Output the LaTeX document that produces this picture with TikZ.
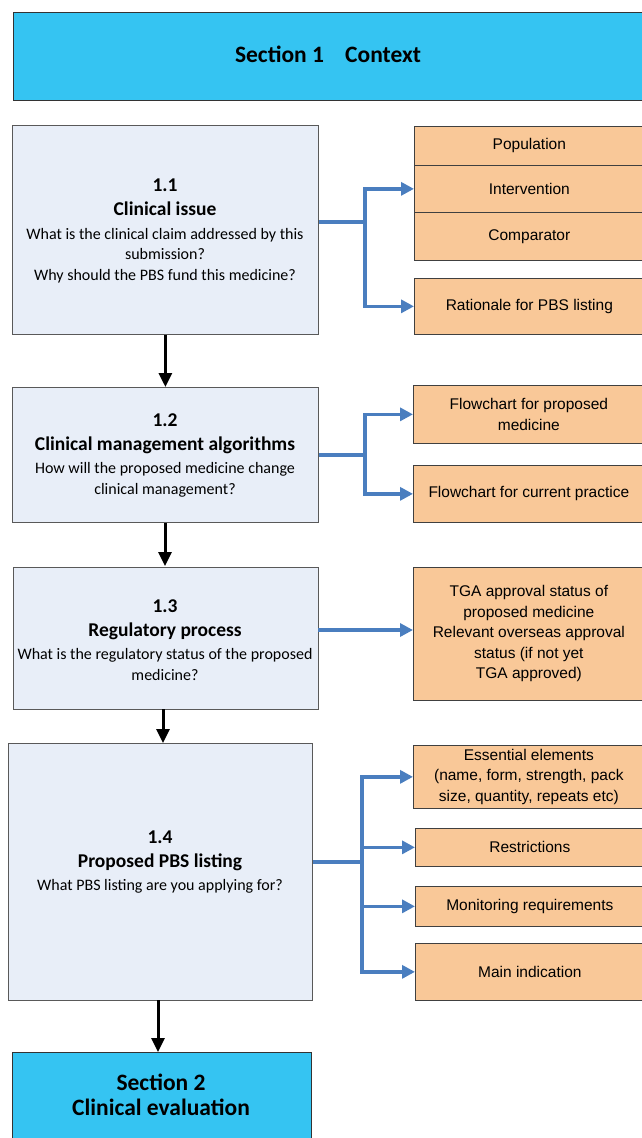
\documentclass[tikz,border=0pt]{standalone}
\usepackage{fontspec}
\setmainfont{Carlito}
\newfontfamily\arialf{Liberation Sans}
\usetikzlibrary{arrows.meta}
\definecolor{cyanbox}{HTML}{35C4F2}
\definecolor{lightbox}{HTML}{E8EEF8}
\definecolor{peach}{HTML}{F9C898}
\definecolor{arrowblue}{HTML}{4A7EBF}
\tikzset{
  sectbox/.style={draw=black!80, line width=0.8pt, fill=cyanbox, inner sep=0pt},
  leftbox/.style={draw=black!65, line width=0.8pt, fill=lightbox, inner sep=0pt},
  lefttext/.style={align=center, inner sep=0pt, font=\fontsize{16}{20.5}\selectfont},
  orangebox/.style={draw=black!75, line width=0.7pt, fill=peach, inner sep=0pt, align=center,
    font=\arialf\fontsize{15.5}{20.5}\selectfont},
  barrow/.style={draw=arrowblue, line width=3.5pt, -{Triangle[length=13pt,width=13pt]}},
  karrow/.style={draw=black, line width=3pt, -{Triangle[length=14pt,width=13pt]}},
  bline/.style={draw=arrowblue, line width=3.5pt},
}
\newcommand{\ttl}[1]{{\fontsize{19.5}{24}\selectfont\bfseries #1}}
\begin{document}
\begin{tikzpicture}[x=1pt,y=-1pt]
\useasboundingbox (0,0) rectangle (642,1138);
% Section 1
\node[sectbox, minimum width=633pt, minimum height=88pt, anchor=north west] (s1) at (13,12) {};
\node[font=\fontsize{23.5}{28}\selectfont\bfseries, inner sep=0pt] (s1t) at (328,54) {Section 1\hspace{0.9em}Context};
% 1.1
\node[leftbox, minimum width=306pt, minimum height=209pt, anchor=north west] (b11) at (12,125) {};
\node[lefttext] (t11) at (165,231) {\ttl{1.1}\\[3.5pt]\ttl{Clinical issue}\\[3pt]What is the clinical claim addressed by this\\submission?\\Why should the PBS fund this medicine?};
\node[orangebox, minimum width=230pt, minimum height=39pt, anchor=north west] (pop) at (414,126) {Population};
\node[orangebox, minimum width=230pt, minimum height=47pt, anchor=north west] (int) at (414,165) {Intervention};
\node[orangebox, minimum width=230pt, minimum height=48pt, anchor=north west] (com) at (414,212) {Comparator};
\node[orangebox, minimum width=230pt, minimum height=56pt, anchor=north west] (rat) at (414,278) {Rationale for PBS listing};
\coordinate (j1) at (365,222);
\draw[bline] (b11.east |- j1) -- (j1);
\draw[barrow] (j1) |- (int.west);
\draw[barrow] (j1) |- (rat.west);
% 1.2
\node[leftbox, minimum width=306pt, minimum height=135pt, anchor=north west] (b12) at (12,387) {};
\node[lefttext] (t12) at (165,455) {\ttl{1.2}\\[3.5pt]\ttl{Clinical management algorithms}\\[3pt]How will the proposed medicine change\\clinical management?};
\node[orangebox, minimum width=231pt, minimum height=58pt, anchor=north west] (fpm) at (413,385) {Flowchart for proposed\\medicine};
\node[orangebox, minimum width=231pt, minimum height=57pt, anchor=north west] (fcp) at (413,465) {Flowchart for current practice};
\coordinate (j2) at (365,455);
\draw[bline] (b12.east |- j2) -- (j2);
\draw[barrow] (j2) |- (fpm.west);
\draw[barrow] (j2) |- (fcp.west);
\draw[karrow] (b11.south) -- (b12.north);
% 1.3
\node[leftbox, minimum width=305pt, minimum height=142pt, anchor=north west] (b13) at (13,567) {};
\node[lefttext] (t13) at (165,640) {\ttl{1.3}\\[3.5pt]\ttl{Regulatory process}\\[3pt]What is the regulatory status of the proposed\\medicine?};
\node[orangebox, minimum width=231pt, minimum height=133pt, anchor=north west] (tga) at (413,567) {TGA approval status of\\proposed medicine\\Relevant overseas approval\\status (if not yet\\TGA approved)};
\coordinate (j3) at (318,630);
\draw[barrow] (j3) -- (tga.west |- j3);
\draw[karrow] (b12.south -| 165,0) -- (165,566);
% 1.4
\node[leftbox, minimum width=304pt, minimum height=257pt, anchor=north west] (b14) at (8,743) {};
\node[lefttext] (t14) at (160,862) {\ttl{1.4}\\[3.5pt]\ttl{Proposed PBS listing}\\[3pt]What PBS listing are you applying for?};
\node[orangebox, minimum width=231pt, minimum height=63pt, anchor=north west] (ess) at (413,745) {Essential elements\\(name, form, strength, pack\\size, quantity, repeats etc)};
\node[orangebox, minimum width=229pt, minimum height=38pt, anchor=north west] (res) at (415,828) {Restrictions};
\node[orangebox, minimum width=229pt, minimum height=40pt, anchor=north west] (mon) at (415,886) {Monitoring requirements};
\node[orangebox, minimum width=229pt, minimum height=57pt, anchor=north west] (mai) at (415,943) {Main indication};
\coordinate (j4) at (362,862);
\draw[bline] (b14.east |- j4) -- (j4);
\draw[barrow] (j4) |- (ess.west);
\draw[barrow] (j4) |- (res.west);
\draw[barrow] (j4) |- (mon.west);
\draw[barrow] (j4) |- (mai.west);
\draw[karrow] (163,709) -- (b14.north -| 163,0);
% Section 2
\node[sectbox, minimum width=299pt, minimum height=95pt, anchor=north west] (s2) at (12,1052) {};
\node[font=\fontsize{23.5}{25}\selectfont\bfseries, align=center, inner sep=0pt] (s2t) at (161,1095) {Section 2\\Clinical evaluation};
\draw[karrow] (158,1000) -- (s2.north -| 158,0);
\end{tikzpicture}
\end{document}
